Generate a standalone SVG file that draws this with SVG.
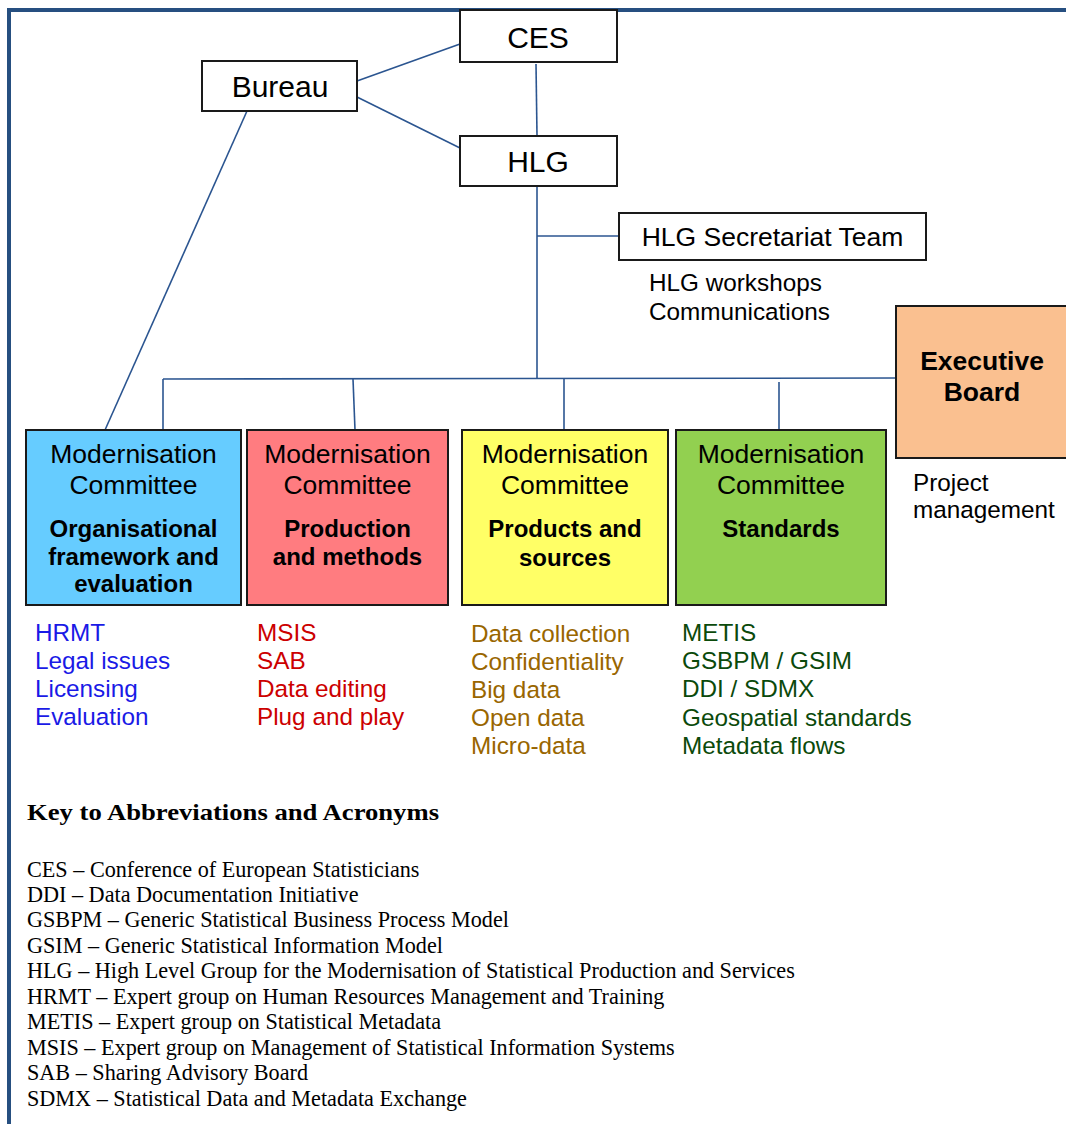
<svg xmlns="http://www.w3.org/2000/svg" width="1066" height="1124" viewBox="0 0 1066 1124">
<style>
.box{stroke:#1a1a1a;stroke-width:2}
.conn{stroke:#2b5590;stroke-width:1.6;fill:none}
.t{font-family:"Liberation Sans",Arial,sans-serif;fill:#000}
.big{font-size:30px}
.mc{font-size:26.5px}
.b{font-size:24px;font-weight:bold}
.lst{font-family:"Liberation Sans",Arial,sans-serif;font-size:24.3px}
.key{font-family:"Liberation Serif","Times New Roman",serif;font-size:22.2px;fill:#000}
</style>
<rect width="1066" height="1124" fill="#fff"/>
<g id="frame">
<line x1="7" y1="10" x2="1066" y2="10" stroke="#264f80" stroke-width="4"/>
<line x1="9" y1="8" x2="9" y2="1124" stroke="#264f80" stroke-width="4"/>
</g>
<g id="connectors">
<line class="conn" x1="357" y1="81" x2="460" y2="44"/>
<line class="conn" x1="357" y1="97" x2="460" y2="148"/>
<line class="conn" x1="536" y1="64" x2="537" y2="136"/>
<line class="conn" x1="537" y1="186" x2="537" y2="379"/>
<line class="conn" x1="537" y1="236" x2="619" y2="236"/>
<line class="conn" x1="163" y1="379" x2="896" y2="378"/>
<line class="conn" x1="163" y1="379" x2="163" y2="430"/>
<line class="conn" x1="353" y1="379" x2="355" y2="430"/>
<line class="conn" x1="564" y1="379" x2="564" y2="430"/>
<line class="conn" x1="779" y1="382" x2="779" y2="430"/>
<line class="conn" x1="247" y1="111" x2="105" y2="430"/>
</g>
<g id="ces">
<rect class="box" x="460" y="10" width="157" height="52" fill="#fff"/>
<text class="t big" x="538" y="48" text-anchor="middle">CES</text>
</g>
<g id="bureau">
<rect class="box" x="202" y="61" width="155" height="50" fill="#fff"/>
<text class="t big" x="280" y="97" text-anchor="middle">Bureau</text>
</g>
<g id="hlg">
<rect class="box" x="460" y="136" width="157" height="50" fill="#fff"/>
<text class="t big" x="538" y="172" text-anchor="middle">HLG</text>
</g>
<g id="secretariat">
<rect class="box" x="619" y="213" width="307" height="47" fill="#fff"/>
<text class="t" font-size="26.5" x="772.5" y="246" text-anchor="middle">HLG Secretariat Team</text>
<text class="t" font-size="24.3" x="649" y="291">HLG workshops</text>
<text class="t" font-size="24.3" x="649" y="320">Communications</text>
</g>
<g id="executive">
<rect class="box" x="896" y="306" width="172" height="152" fill="#fac090"/>
<text class="t" font-size="26.5" font-weight="bold" x="982" y="370" text-anchor="middle">Executive</text>
<text class="t" font-size="26.5" font-weight="bold" x="982" y="401" text-anchor="middle">Board</text>
<text class="t" font-size="24.3" x="913" y="491">Project</text>
<text class="t" font-size="24.3" x="913" y="518">management</text>
</g>
<g id="mc-org">
<rect class="box" x="26" y="430" width="215" height="175" fill="#66ccff"/>
<text class="t mc" x="133.5" y="463" text-anchor="middle">Modernisation</text>
<text class="t mc" x="133.5" y="494" text-anchor="middle">Committee</text>
<text class="t b" x="133.5" y="537" text-anchor="middle">Organisational</text>
<text class="t b" x="133.5" y="565" text-anchor="middle">framework and</text>
<text class="t b" x="133.5" y="592" text-anchor="middle">evaluation</text>
<g class="lst" fill="#1a1ae6">
<text x="35" y="641">HRMT</text>
<text x="35" y="669">Legal issues</text>
<text x="35" y="697">Licensing</text>
<text x="35" y="725">Evaluation</text>
</g>
</g>
<g id="mc-prod">
<rect class="box" x="247" y="430" width="201" height="175" fill="#ff7c80"/>
<text class="t mc" x="347.5" y="463" text-anchor="middle">Modernisation</text>
<text class="t mc" x="347.5" y="494" text-anchor="middle">Committee</text>
<text class="t b" x="347.5" y="537" text-anchor="middle">Production</text>
<text class="t b" x="347.5" y="565" text-anchor="middle">and methods</text>
<g class="lst" fill="#cc0000">
<text x="257" y="641">MSIS</text>
<text x="257" y="669">SAB</text>
<text x="257" y="697">Data editing</text>
<text x="257" y="725">Plug and play</text>
</g>
</g>
<g id="mc-products">
<rect class="box" x="462" y="430" width="206" height="175" fill="#ffff66"/>
<text class="t mc" x="565" y="463" text-anchor="middle">Modernisation</text>
<text class="t mc" x="565" y="494" text-anchor="middle">Committee</text>
<text class="t b" x="565" y="537" text-anchor="middle">Products and</text>
<text class="t b" x="565" y="566" text-anchor="middle">sources</text>
<g class="lst" fill="#996600">
<text x="471" y="642">Data collection</text>
<text x="471" y="670">Confidentiality</text>
<text x="471" y="698">Big data</text>
<text x="471" y="726">Open data</text>
<text x="471" y="754">Micro-data</text>
</g>
</g>
<g id="mc-standards">
<rect class="box" x="676" y="430" width="210" height="175" fill="#92d050"/>
<text class="t mc" x="781" y="463" text-anchor="middle">Modernisation</text>
<text class="t mc" x="781" y="494" text-anchor="middle">Committee</text>
<text class="t b" x="781" y="537" text-anchor="middle">Standards</text>
<g class="lst" fill="#0b4a0b">
<text x="682" y="641">METIS</text>
<text x="682" y="669">GSBPM / GSIM</text>
<text x="682" y="697">DDI / SDMX</text>
<text x="682" y="726">Geospatial standards</text>
<text x="682" y="754">Metadata flows</text>
</g>
</g>
<g id="key">
<text class="key" x="27" y="820" font-size="30" font-weight="bold" textLength="412" lengthAdjust="spacingAndGlyphs">Key to Abbreviations and Acronyms</text>
<text class="key" x="27" y="877">CES – Conference of European Statisticians</text>
<text class="key" x="27" y="902">DDI – Data Documentation Initiative</text>
<text class="key" x="27" y="927">GSBPM – Generic Statistical Business Process Model</text>
<text class="key" x="27" y="953">GSIM – Generic Statistical Information Model</text>
<text class="key" x="27" y="978">HLG – High Level Group for the Modernisation of Statistical Production and Services</text>
<text class="key" x="27" y="1004">HRMT – Expert group on Human Resources Management and Training</text>
<text class="key" x="27" y="1029">METIS – Expert group on Statistical Metadata</text>
<text class="key" x="27" y="1055">MSIS – Expert group on Management of Statistical Information Systems</text>
<text class="key" x="27" y="1080">SAB – Sharing Advisory Board</text>
<text class="key" x="27" y="1106">SDMX – Statistical Data and Metadata Exchange</text>
</g>
</svg>
